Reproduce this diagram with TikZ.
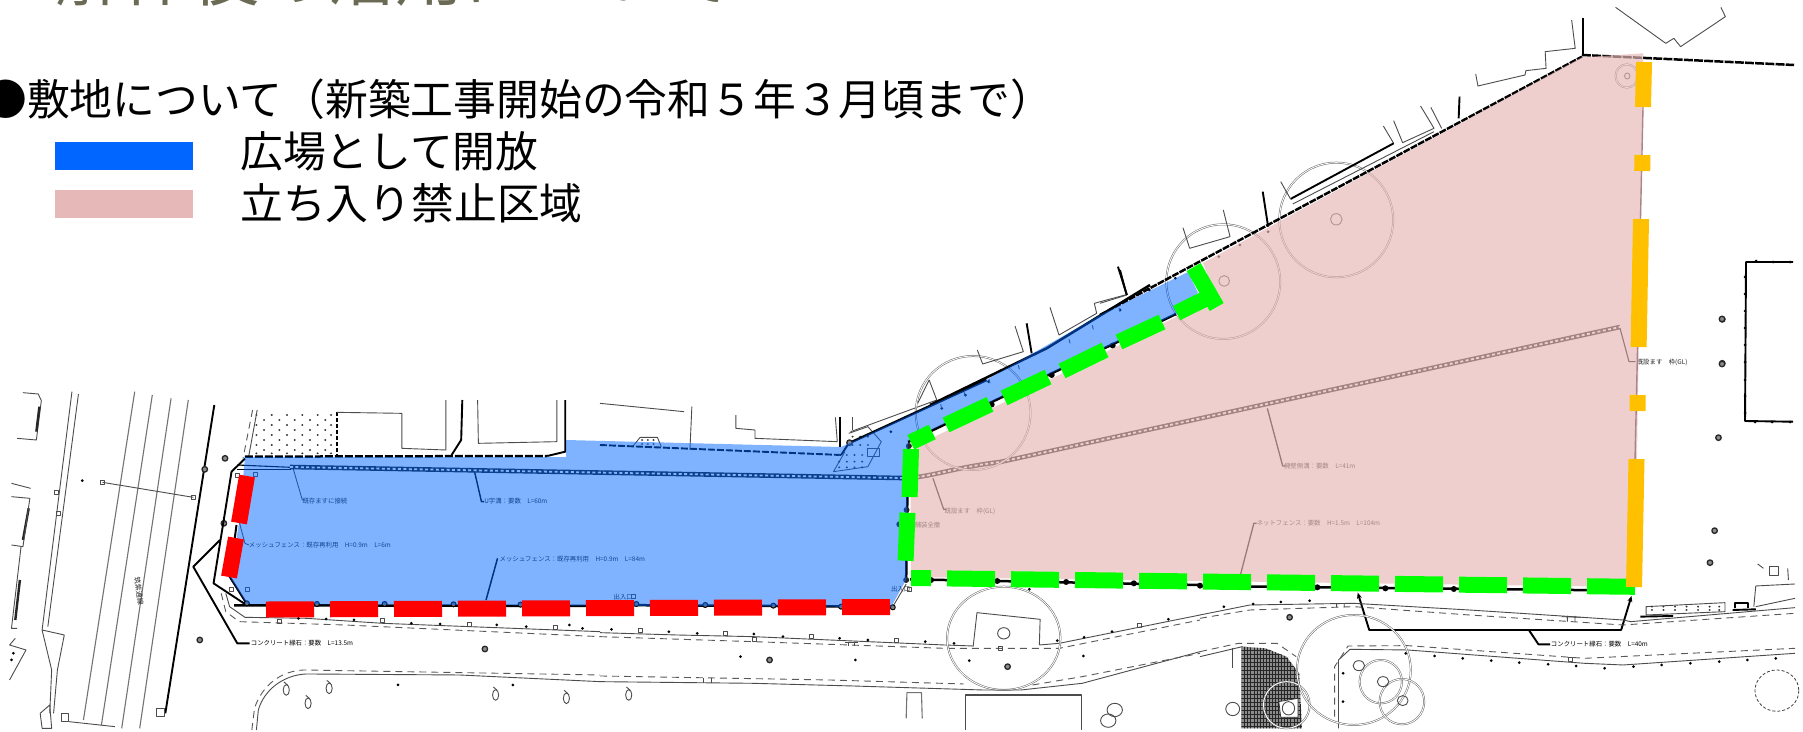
\documentclass[tikz,border=0pt]{standalone}
\usepackage{fontspec}
\usetikzlibrary{arrows.meta}
\setmainfont{Noto Sans CJK JP}
\newcommand\fsz[1]{\fontsize{#1pt}{#1pt}\selectfont}
\newcommand\mks[1]{\foreach \x/\y [count=\i] in {#1} \node[mk] (mk\i) at (\x,\y) {};}
\newcommand\dts[1]{\foreach \x/\y [count=\i] in {#1} \node[dt] (dt\i) at (\x,\y) {};}
\newcommand\sqs[1]{\foreach \x/\y [count=\i] in {#1} \node[sq] (sq\i) at (\x,\y) {};}
\newcommand\crl[1]{\foreach \x/\y in {#1} {\draw[thn] (\x,\y) ellipse [x radius=8,y radius=16]; \draw[thn] (\x-6,\y-24) -- (\x+4,\y-14);}}
\newcommand\dotfield[2]{\foreach \u in {#1} \foreach \v in {#2} \fill[black!80] (\u,\v) ellipse [x radius=3,y radius=3];}
\tikzset{
  zb/.style={shift={(0,380)},xscale=.3827,yscale=.3333},
  zc/.style={shift={(600,380)},xscale=.3827,yscale=.3333},
  zd/.style={shift={(1200,380)},xscale=.3846,yscale=.3333},
  ze/.style={shift={(1100,0)},xscale=.4483,yscale=.3333},
  zf/.style={shift={(930,270)},xscale=.3333,yscale=.3333},
  thn/.style={draw=black!70,line width=.9pt},
  gry/.style={draw=black!55,line width=1.1pt},
  thk/.style={draw=black,line width=1.9pt},
  fen/.style={draw=black,line width=2.5pt},
  dsh/.style={draw=black!65,line width=.9pt,dash pattern=on 7pt off 5pt},
  dc/.style={draw=black!60,line width=.5pt,double=white,double distance=.9pt},
  mk/.style={circle,draw=black!85,fill=black!45,line width=1.3pt,minimum size=5.5pt,inner sep=0pt},
  dt/.style={circle,fill=black,minimum size=3pt,inner sep=0pt},
  sq/.style={rectangle,draw=black!70,line width=.6pt,minimum size=4pt,inner sep=0pt},
  lb/.style={anchor=west,inner sep=0pt,text=black!85,font=\fsz{6.4}},
  big/.style={anchor=base west,inner sep=0pt,text=black,font=\fsz{42.8}},
  mark band/.style={line width=16pt}
}
\definecolor{legblue}{HTML}{0066FF}
\definecolor{legpink}{HTML}{E6B8B7}
\definecolor{titlegrey}{HTML}{6B6B55}
\definecolor{bandred}{HTML}{FF0000}
\definecolor{bandgreen}{HTML}{00FF00}
\definecolor{bandyellow}{HTML}{FFC000}
\definecolor{mauve}{HTML}{A98588}
\begin{document}
\begin{tikzpicture}[x=1pt,y=-1pt,line join=round]
\useasboundingbox (0,0) rectangle (1803,731);
\clip (0,0) rectangle (1803,731);
\fill[white] (0,0) rectangle (1803,731);

% title cut by the top edge
\node[anchor=base west,inner sep=0pt,text=titlegrey,font=\fsz{68}] (title) at (55,0) {解体後の活用について};

%%%%% base map, left part
\begin{scope}[zb]
  \draw[thn] (60,38)--(100,42)--(108,62)--(95,180)--(45,175);
  \draw[line width=2.4pt,black!85] (103,80)--(95,155) (75,385)--(60,480) (52,600)--(40,720);
  \draw[thn] (30,310)--(80,325) (30,350)--(78,355)--(60,500)--(30,495) (55,500)--(30,745)--(45,745);
  \draw[thn] (25,795)--(68,810)--(25,900) (25,795)--(40,775);
  \draw[thn] (188,35)--(110,750)--(168,765)--(150,870)--(140,1000);
  \draw[thn] (205,42)--(125,740);
  \draw[thn] (110,750)--(135,870)--(130,1000);
  \draw[gry] (352,35)--(218,1020) (398,45)--(265,1035) (447,55)--(318,1045) (492,60)--(365,1045);
  \draw[thk] (560,75)--(432,1000);
  \draw[thn] (105,1000)--(130,975)--(135,1045)--(110,1045)--cycle;
  \draw[thn] (160,1000) rectangle (180,1025);
  \draw[thn] (180,1025)--(300,1040);
  \draw[thn] (408,985) rectangle (430,1010);
  \draw[thn] (268,307)--(505,352);
  \dts{215/302,35/820,30/840}
  \sqs{147/337,153/400,268/307,505/352}
  \mks{588/235,535/268,585/430,522/780,1267/807}
  % fence corner left
  \draw[thk] (640,236)--(605,275)--(558,610)--(640,672);
  \draw[thk] (575,480)--(505,560)--(620,790)--(652,790);
  \draw[thn] (590,640)--(600,680)--(640,712)--(800,715)--(1000,730)--(1568,755);
  \draw[dsh] (578,640)--(590,695)--(625,725)--(900,735)--(1568,770);
  \sqs{730/725,1000/720,1225/733,1450/742}
  \dts{780/715,852/717,925/720,1075/730,1150/732,1298/735,1375/740,1488/735,1522/745}
  % upper buildings
  \dotfield{670,710,750,790,830,865}{105,135,165,195,220}
  \dotfield{690,730,770,810,850}{120,150,180,210}
  \draw[dsh] (660,90)--(635,235);
  \draw[thn] (672,90)--(650,228);
  \draw[thk,dash pattern=on 4pt off 2pt] (880,95)--(880,228);
  \draw[thn] (880,97)--(1050,100)--(1050,205)--(1165,210)--(1165,60);
  \draw[thk] (1208,60)--(1205,180)--(1180,225);
  \draw[thn] (1248,60)--(1250,190)--(1455,185)--(1455,60);
  \draw[thk] (1477,60)--(1477,215)--(1430,228);
  \draw[fen,dash pattern=on 8pt off 2pt] (640,230)--(1430,228);
  \node[lb,text=black] (con1) at (655,790) {コンクリート縁石：要数　L=13.5m};
  \node[lb,rotate=-82,font=\fsz{7}] (rd1) at (358,590) {筑紫通線};
  % lower curve
  \draw[thn] (670,1050)--(675,990) .. controls (690,930) and (740,885) .. (800,882)--(1200,885)--(1568,905);
  \draw[dsh] (658,1050)--(665,985) .. controls (685,915) and (735,872) .. (795,870)--(1568,885);
  \crl{748/930,805/970,860/925,1295/945,1480/955}
  \dts{1040/915,1340/915}
  % inside the open square
  \draw[line width=1.1pt,black] (620,255)--(760,262);
  \draw[line width=.8pt,black] (620,268)--(760,268);
  \draw[thn] (765,262)--(790,360)--(795,360);
  \node[lb] (kizon) at (790,362) {既存ますに接続};
  \draw[line width=1.4pt,black] (1240,275)--(1258,365)--(1265,365);
  \node[lb] (ukou) at (1265,362) {U字溝：要数　L=60m};
  \draw[line width=2pt,black] (618,435)--(600,590)--(645,672);
  \draw[thn] (625,425)--(640,490)--(650,495);
  \node[lb] (mesh1) at (650,495) {メッシュフェンス：既存再利用　H=0.9m　L=6m};
  \draw[line width=1.5pt,black] (1300,535)--(1270,660);
  \node[lb] (mesh2) at (1305,537) {メッシュフェンス：既存再利用　H=0.9m　L=84m};
  \sqs{620/285,668/283,605/628,647/628}
  \draw[fen] (612,676)--(1568,678);
  \foreach \x/\y [count=\i] in {645/670,828/672,1005/672,1185/673,1360/674,1540/674} \node[circle,draw=black,line width=1pt,fill=black!55,minimum size=5pt,inner sep=0pt] (fp\i) at (\x,\y) {};
\end{scope}

%%%%% chain line
\draw[line width=4.6pt,black!90] (290,467)--(902,478) .. controls (930,478) and (950,468) .. (1000,462)--(1620,327);
\draw[line width=1.8pt,white,dash pattern=on 3pt off 2.4pt] (290,467)--(902,478) .. controls (930,478) and (950,468) .. (1000,462)--(1620,327);

%%%%% base map, middle part
\begin{scope}[zc]
  \draw[thn] (0,70)--(220,95) (240,80)--(235,210);
  \draw[thn] (355,105)--(355,145)--(405,150)--(405,175)--(620,185)--(615,112);
  \draw[thk] (628,110)--(628,200);
  \draw[thn] (660,110)--(660,150);
  \draw[thn] (85,200)--(105,172)--(150,172)--(160,200);
  \dotfield{110,125,140}{180,192}
  \draw[thk,dash pattern=on 7pt off 2pt] (0,195)--(630,225);
  \draw[thk] (630,225)--(650,190);
  % dotted patch and path
  \draw[thn] (650,160)--(700,140)--(735,185)--(700,260)--(610,275)--(640,215);
  \draw[thn] (700,230) rectangle (730,205);
  \dotfield{625,645,665,685}{262,245,225}
  \dotfield{660,680,700}{170,195}
  \draw[thn] (655,155)--(880,60)--(860,0)--(830,70);
  \draw[dc] (975,99) ellipse [x radius=150,y radius=171];
  \draw[fen] (650,190)--(1010,0);
  \mks{652/188}
  \dts{760/155,893/85,955/45,1015/5}
  % leader in the closed zone
  \draw[line width=1.2pt,black] (870,295)--(898,388)--(905,388);
  \node[lb] (kiset) at (900,393) {既設ます　枠(GL)};
  \node[lb] (hoso) at (822,435) {舗装全撤};
  % right edge of the open zone
  \draw[fen] (805,200)--(800,600);
  \foreach \x/\y [count=\i] in {807/198,801/390,782/433,800/600} \node[circle,fill=black!85,minimum size=6pt,inner sep=0pt] (re\i) at (\x,\y) {};
  \draw[thn] (800,612)--(765,680);
  \node[circle,draw=black,fill=black!50,line width=1pt,minimum size=5pt,inner sep=0pt] (cn1) at (765,682) {};
  \node[lb] (deir1) at (760,627) {出入口};
  \node[lb] (deir2) at (35,650) {出入口};
  \sqs{808/628,87/648}
  \draw[fen] (0,675)--(760,680);
  \foreach \x/\y [count=\i] in {95/672,275/675,453/677,630/680} \node[circle,draw=black,line width=1pt,fill=black!55,minimum size=5pt,inner sep=0pt] (fq\i) at (\x,\y) {};
  % fence under the closed zone
  \draw[fen] (810,598)--(1568,615);
  \foreach \x/\y [count=\i] in {865/600,1038/603,1218/606,1395/610} \node[circle,fill=black,minimum size=6pt,inner sep=0pt] (fr\i) at (\x,\y) {};
  \dts{1122/628}
  % sidewalk
  \draw[thn] (0,758)--(200,765)--(400,770)--(900,795)--(975,798);
  \draw[dsh] (0,770)--(400,785)--(900,805)--(1200,805)--(1568,720);
  \draw[thn] (1148,795)--(1200,790)--(1568,705);
  \sqs{105/750,327/760,403/778,552/770,775/782,1410/735}
  \dts{30/748,180/755,254/760,402/762,478/770,626/775,700/780,850/785,925/790,1195/782,1265/772,1338/755,1485/718}
  \draw[thn] (650,785)--(650,798) (665,785)--(665,798) (640,788)--(675,788);
  % tree with bench
  \draw[dc] (1055,775) ellipse [x radius=148,y radius=155];
  \draw[thn] (975,800)--(985,698)--(1150,718)--(1148,795);
  \draw[thn] (1055,760) ellipse [x radius=16,y radius=17];
  \sqs{1047/806}
  \mks{443/840,1065/860}
  \dts{367/830,667/840,965/842,1263/828}
  % lower road
  \draw[thn] (0,905)--(400,910)--(660,918)--(1000,930)--(1100,930)--(1260,910)--(1568,815);
  \draw[dsh] (0,888)--(600,900)--(950,912);
  \draw[dsh] (1130,915)--(1260,890)--(1568,820);
  \draw[thn] (270,895)--(270,910) (290,895)--(290,910);
  \draw[line width=1.6pt,black!70] (955,1050)--(955,945)--(1258,945)--(1258,1050);
  \draw[gry] (800,1015)--(802,938)--(840,938)--(842,1015);
  \draw[thn] (1345,990) ellipse [x radius=20,y radius=20];
  \draw[thn] (1328,1022) ellipse [x radius=20,y radius=20];
  \crl{75/945}
\end{scope}

%%%%% base map, right lower part
\begin{scope}[zd]
  \draw[fen] (0,618)--(1130,632);
  \foreach \x/\y [count=\i] in {305/622,482/625,660/627,0/617} \node[circle,fill=black,minimum size=6pt,inner sep=0pt] (fs\i) at (\x,\y) {};
  \draw[thk,-{Stealth[length=6pt,width=5pt]}] (855,750)--(440,750)--(410,638);
  \draw[thk,-{Stealth[length=6pt,width=5pt]}] (855,750)--(1095,750)--(1122,648);
  \draw[thk] (855,750)--(880,793)--(910,793);
  \node[lb,text=black] (con2) at (912,793) {コンクリート縁石：要数　L=40m};
  \draw[line width=1.3pt,black] (175,85)--(215,258)--(222,258);
  \node[lb] (sok) at (218,258) {擁壁側溝：要数　L=41m};
  \draw[line width=1.3pt,black] (105,585)--(140,430)--(147,430);
  \node[lb] (net) at (147,430) {ネットフェンス：要数　H=1.5m　L=104m};
  % sidewalk
  \draw[thn] (0,705)--(130,675)--(400,670)--(700,690)--(1100,720)--(1120,725)--(1547,683);
  \draw[dsh] (0,715)--(130,690)--(400,680)--(700,705)--(1100,735)--(1547,700);
  \draw[thn] (355,670)--(355,682) (375,670)--(375,682) (955,708)--(955,725) (975,708)--(975,725) (940,710)--(990,712);
  \dts{62/680,138/672,210/666,285/662}
  \draw[thn] (1160,680)--(1365,668)--(1365,695)--(1160,705)--cycle;
  \dotfield{1175,1205,1235,1265,1295,1325,1350}{690,680}
  \draw[thk] (1145,710)--(1230,708) (1385,690)--(1445,688);
  \draw[thk] (1390,685)--(1390,670)--(1425,670)--(1425,685);
  \draw[thn] (1440,680)--(1445,618)--(1547,612);
  \draw[thn] (1445,680)--(1547,655);
  \draw[thn] (1480,558) rectangle (1505,585);
  \draw[thn] (1450,552)--(1465,565) (1528,565)--(1530,600);
  \mks{233/712,1348/173,1338/452,1326/548}
  % lower road
  \draw[thn] (0,830)--(110,800);
  \draw[dsh] (0,815)--(100,790)--(200,790)--(250,830);
  \draw[thn] (360,1045)--(360,840)--(390,808)--(540,810)--(1000,850)--(1100,855)--(1547,820);
  \draw[dsh] (350,1010)--(350,860)--(385,798)--(540,797)--(1000,835)--(1547,805);
  \sqs{962/838}
  \dts{535/820,610/828,683/835,757/842,830/848,905/853,978/858,1052/865,1127/860,1200/855,1275/850,1350/845,1423/840,1497/835,372/880,372/965}
  \draw[dash pattern=on 3pt off 2pt,black!75,line width=.8pt] (1500,932) ellipse [x radius=57,y radius=62];
  % hatched block
  \begin{scope}
    \clip (108,800)--(170,805)--(225,830)--(258,880)--(265,1045)--(108,1045)--cycle;
    \fill[black!45] (100,790) rectangle (270,1050);
    \foreach \u in {108,116,...,270} \draw[black!85,line width=.6pt] (\u,790)--(\u,1050);
    \foreach \v in {800,812,...,1050} \draw[black!85,line width=.5pt] (100,\v)--(270,\v);
  \end{scope}
  \draw[thn] (85,987) ellipse [x radius=18,y radius=20];
  \draw[dc] (225,975) ellipse [x radius=60,y radius=70];
  \filldraw[fill=white,draw=black!80,line width=.7pt] (205,965)--(255,955)--(255,1012)--(210,1012)--cycle;
  \draw[thn] (230,985) ellipse [x radius=16,y radius=20];
  \draw[thn] (85,805)--(85,865);
  % trees
  \draw[dc] (400,870) ellipse [x radius=148,y radius=165];
  \draw[dc] (470,905) ellipse [x radius=55,y radius=65];
  \draw[dc] (525,965) ellipse [x radius=58,y radius=68];
  \draw[thn] (413,857) ellipse [x radius=15,y radius=15];
  \draw[thn] (476,905) ellipse [x radius=15,y radius=15];
  \draw[thn] (527,962) ellipse [x radius=14,y radius=15];
\end{scope}

%%%%% base map, right upper part
\begin{scope}[ze]
  \draw[dc] (275,845) ellipse [x radius=127,y radius=172];
  \draw[dc] (527,660) ellipse [x radius=127,y radius=172];
  \draw[thn] (277,843) ellipse [x radius=12,y radius=16];
  \draw[thn] (527,658) ellipse [x radius=13,y radius=17];
  \draw[dc] (1175,228) ellipse [x radius=25,y radius=35];
  \draw[thn] (1176,228) ellipse [x radius=6,y radius=9];
  \draw[fen,dash pattern=on 7pt off 1.2pt] (0,945)--(1075,170);
  \draw[fen,dash pattern=on 9pt off 1.2pt] (1075,165)--(1548,195);
  \draw[thk] (1078,55)--(1078,165);
  \draw[thn] (1052,60)--(1060,145)--(993,155)--(995,205)--(950,212)--(948,225)--(843,258)--(838,222);
  \draw[thn] (1150,22)--(1262,130)--(1280,115)--(1295,140)--(1395,50)--(1385,22);
  \draw[thk] (802,290)--(800,355);
  \draw[thn] (715,318)--(745,385)--(675,428)--(655,362);
  \draw[thn] (738,322)--(762,385);
  \draw[thn] (632,378)--(655,430);
  \draw[thk] (655,430)--(425,597);
  \draw[thn] (425,597)--(403,545);
  \draw[thn] (430,612)--(745,395);
  \draw[thk] (363,575)--(375,680);
  \draw[thn] (275,630)--(290,710)--(200,745)--(185,683);
  \draw[thk] (40,800)--(60,885);
  \draw[thn] (60,885)--(0,910);
  \dts{265/770,312/735,375/695,168/835,110/870,45/930}
  \draw[line width=1.1pt,black] (1160,985)--(1180,1085)--(1195,1085);
  \node[lb] (kiset2) at (1197,1087) {既設ます　枠(GL)};
  \mks{1388/958,1388/1090}
\end{scope}

%%%%% diagonal stretch between the middle and right parts
\begin{scope}[zf]
  \draw[fen] (0,405)--(350,235)--(660,45);
  \draw[thn] (142,240)--(158,282)--(280,245)--(255,168);
  \draw[thk] (290,160)--(305,250);
  \draw[thn] (360,112)--(387,195)--(500,130)--(493,100)--(585,75);
  \draw[thk] (570,0)--(590,75);
  \foreach \x/\y in {35/415,105/378,180/340,268/298,420/220,490/178,570/125} \draw[thn] (\x-3,\y-12)--(\x,\y);
\end{scope}
\draw[fen] (908,442)--(1176,314);
\foreach \x/\y [count=\i] in {991.7/404.5,1051.7/375,1112.7/345.5} \node[circle,fill=black,minimum size=6pt,inner sep=0pt] (lf\i) at (\x,\y) {};

%%%%% right hand block
\draw[thk] (1793,262)--(1746,262)--(1745,421)--(1793,421.7);
\foreach \x/\y [count=\i] in {1745/277,1745/294,1745/311,1745/328,1745/345,1745/362,1745/380,1745/396,1745/413,1756/261,1773/262,1790/262,1755/422,1772/422,1790/422} \node[dt] (bk\i) at (\x,\y) {};
\node[mk] (m1) at (1722,319) {};
\node[mk] (m2) at (1722,364) {};

%%%%% translucent zones over the map
\fill[legpink,fill opacity=.67] (1582,57.3)--(1643.3,53.3)--(1643,62)--(1635,587)--(911,577)--(910.5,500)--(914,447)--(1176,317)--(1217,300)--(1203,263)--cycle;
\fill[legblue,fill opacity=.5] (245,457)--(566,457)--(566,440)--(841,447)--(986,380)--(1100,315)--(1188,272)--(1198,293)--(1176,314)--(908,441)--(907,497)--(906,580)--(891,607)--(247,604)--(230,577)--(239,523)--cycle;

%%%%% east boundary line
\draw[mauve,line width=1.4pt] (1643,107)--(1635,460);

%%%%% coloured bands
\draw[bandred,mark band] (247,476)--(239,523);
\draw[bandred,mark band] (236,538)--(229,577);
\draw[bandred,mark band,dash pattern=on 48pt off 16pt] (266,609.5)--(890,607);
\draw[bandgreen,mark band,dash pattern=on 48pt off 16pt] (1635,586.8)--(911,578);
\draw[bandgreen,mark band] (911,449)--(909.6,497);
\draw[bandgreen,mark band] (907.5,512.7)--(905.6,560.7);
\draw[bandgreen,mark band] (910.8,442.3)--(932.2,432);
\draw[bandgreen,mark band] (946,425)--(990,404.3);
\draw[bandgreen,mark band] (1004,398)--(1048,377);
\draw[bandgreen,mark band] (1062,371)--(1105,350);
\draw[bandgreen,mark band] (1119,342)--(1162,322);
\draw[bandgreen,mark band] (1176.7,313)--(1217,293);
\draw[bandgreen,mark band] (1193.7,267)--(1216.7,307);
\draw[bandyellow,mark band] (1644,62)--(1643,107);
\draw[bandyellow,mark band] (1642.4,155)--(1642.2,171);
\draw[bandyellow,mark band] (1641,219)--(1638.6,347);
\draw[bandyellow,mark band] (1637.7,395)--(1637.5,411);
\draw[bandyellow,mark band] (1636.5,459)--(1634,587);

%%%%% legend
\node[big] (head) at (-16,115.5) {●敷地について（新築工事開始の令和５年３月頃まで）};
\node[fill=legblue,minimum width=138pt,minimum height=28pt,inner sep=0pt,anchor=north west] (swblue) at (55,142) {};
\node[big] (lgblue) at (240,167) {広場として開放};
\node[fill=legpink,minimum width=138pt,minimum height=28pt,inner sep=0pt,anchor=north west] (swpink) at (55,190) {};
\node[big] (lgpink) at (240,219) {立ち入り禁止区域};
\end{tikzpicture}
\end{document}
